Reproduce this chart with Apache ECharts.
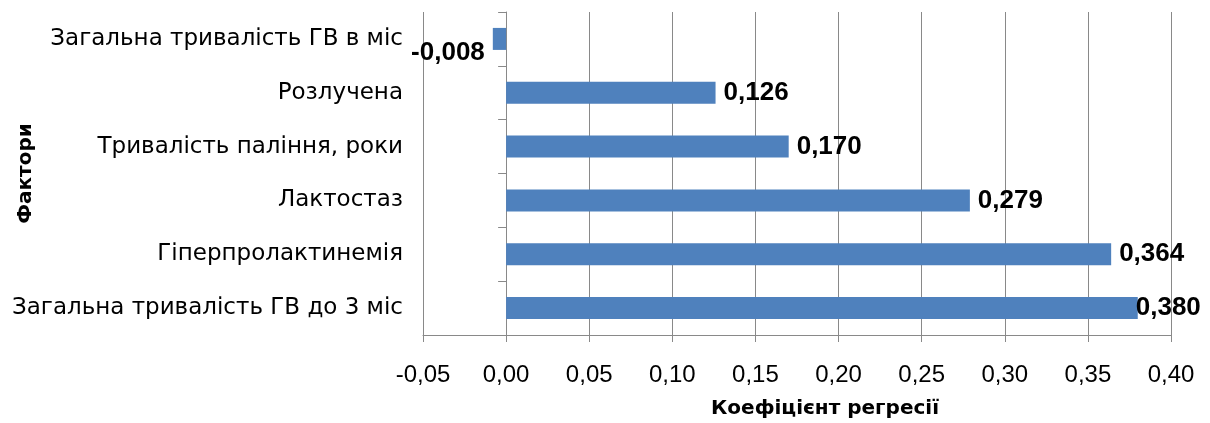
<!DOCTYPE html>
<html>
<head>
<meta charset="utf-8">
<script src="https://cdn.jsdelivr.net/npm/echarts@6/dist/echarts.min.js"></script>
<style>
  html, body { margin: 0; padding: 0; background: #fff; }
  #chart { width: 1210px; height: 423px; }
</style>
</head>
<body>
<div id="chart"></div>
<script>
// Factors, listed top to bottom
const factors = [
  'Загальна тривалість ГВ в міс',
  'Розлучена',
  'Тривалість паління, роки',
  'Лактостаз',
  'Гіперпролактинемія',
  'Загальна тривалість ГВ до 3 міс'
];
// Regression coefficients
const coefficients = [-0.008, 0.126, 0.170, 0.279, 0.364, 0.380];
// Value axis range and step
const axisMin = -0.05;
const axisMax = 0.40;
const axisStep = 0.05;

const FONT = '"Liberation Sans", Arial, sans-serif';
const TEXT_FONT = '"DejaVu Sans", "Liberation Sans", sans-serif';
const GRID_COLOR = '#898989';

const fmt = (v, d) => v.toFixed(d).replace('.', ',');

const barData = coefficients.map((v, i) => {
  const item = { value: v };
  if (v < 0) {
    item.label = { position: 'left', distance: 8, offset: [0, 14] };
  } else if (i === coefficients.length - 1) {
    item.label = { distance: 0, offset: [-2, 0] };
  }
  return item;
});

const chart = echarts.init(document.getElementById('chart'), null, { renderer: 'canvas' });
chart.setOption({
  animation: false,
  backgroundColor: '#fff',
  grid: { left: 423, right: 39, top: 12, bottom: 88, containLabel: false, outerBoundsMode: 'none' },
  xAxis: {
    type: 'value',
    min: axisMin,
    max: axisMax,
    interval: axisStep,
    name: 'Коефіцієнт регресії',
    nameLocation: 'middle',
    nameGap: 64,
    nameMoveOverlap: false,
    nameTextStyle: { fontFamily: TEXT_FONT, fontSize: 20, fontWeight: 'bold', color: '#000', padding: [0, 0, 0, 56] },
    axisLine: { show: true, onZero: false, lineStyle: { color: GRID_COLOR, width: 1 } },
    axisTick: { show: true, length: 7, lineStyle: { color: GRID_COLOR } },
    axisLabel: {
      fontFamily: FONT, fontSize: 24, color: '#000', margin: 28,
      formatter: v => fmt(v, 2)
    },
    splitLine: { show: true, lineStyle: { color: GRID_COLOR, width: 1 } }
  },
  yAxis: [
    {
      type: 'category',
      data: factors,
      inverse: true,
      name: 'Фактори',
      nameLocation: 'middle',
      nameGap: 387,
      nameMoveOverlap: false,
      nameRotate: 90,
      nameTextStyle: { fontFamily: TEXT_FONT, fontSize: 20, fontWeight: 'bold', color: '#000' },
      axisLine: { show: false, onZero: false },
      axisTick: { show: false },
      axisLabel: { fontFamily: TEXT_FONT, fontSize: 23, color: '#000', margin: 20 }
    },
    {
      type: 'category',
      data: factors,
      inverse: true,
      position: 'left',
      axisLine: { show: true, onZero: true, lineStyle: { color: GRID_COLOR, width: 1 } },
      axisTick: { show: true, length: 8, lineStyle: { color: GRID_COLOR } },
      axisLabel: { show: false }
    }
  ],
  series: [{
    type: 'bar',
    yAxisIndex: 0,
    data: barData,
    barWidth: 22,
    itemStyle: { color: '#4F81BD' },
    label: {
      show: true,
      position: 'right',
      distance: 8,
      fontFamily: FONT,
      fontSize: 26,
      fontWeight: 'bold',
      color: '#000',
      formatter: p => fmt(p.value, 3)
    }
  }]
});
</script>
</body>
</html>
